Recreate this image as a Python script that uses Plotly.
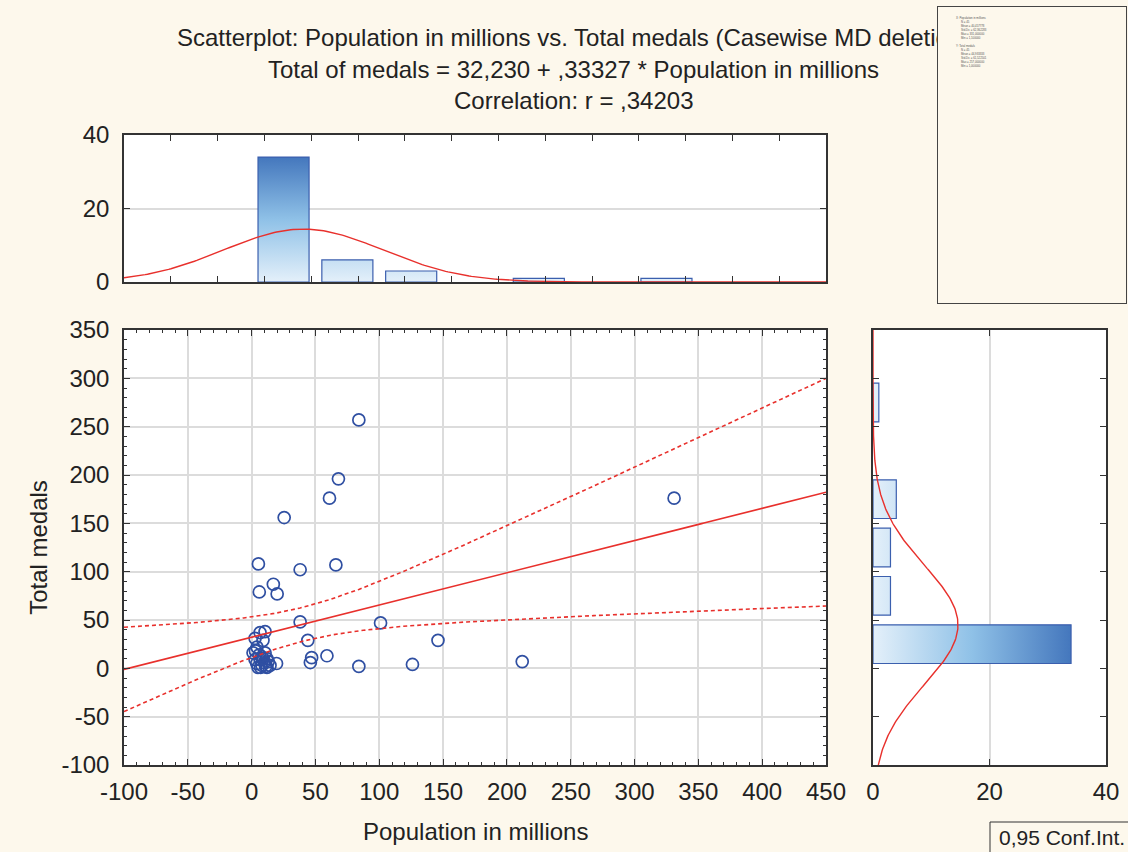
import numpy as np
import plotly.graph_objects as go

# ---------------- data ----------------
population = [84, 331, 68, 61, 25.5, 5.3, 38, 66, 17, 20, 6, 38, 101, 44, 146, 47, 46, 59, 84, 126, 212, 19.5,
              10.5, 6.6, 2.7, 8.9, 4.2, 1.1, 10.5, 2.7, 6.6, 14.4, 8.1, 5, 12,
              8, 12, 4, 10, 6, 13, 7, 9, 3, 11]
medals = [257, 176, 196, 176, 156, 108, 102, 107, 87, 77, 79, 48, 47, 29, 29, 11, 6, 13, 2, 4, 7, 5,
          38, 37, 31, 29, 22, 16, 16, 9, 9, 3, 3, 1, 1,
          12, 10, 5, 6, 14, 7, 1, 10, 18, 2]

intercept = 32.230
slope = 0.33327
t_crit = 2.0167            # t(0.975, df=43)
bin_edges_x = list(range(-100, 451, 50))
bin_edges_y = list(range(-100, 351, 50))
x_ticks = list(range(-100, 451, 50))
y_ticks = list(range(-100, 351, 50))
hist_ticks = [0, 20, 40]

title_lines = ["Scatterplot: Population in millions vs. Total medals (Casewise MD deletion)",
               "Total of medals = 32,230 + ,33327 * Population in millions",
               "Correlation: r = ,34203"]
x_title = "Population in millions"
y_title = "Total medals"
ci_label = "0,95 Conf.Int."

# ---------------- computations ----------------
x = np.array(population, float)
y = np.array(medals, float)
n = len(x)
xm, ym = x.mean(), y.mean()
sx, sy = x.std(ddof=1), y.std(ddof=1)
Sxx = ((x - xm) ** 2).sum()
resid = y - (intercept + slope * x)
s_res = np.sqrt((resid ** 2).sum() / (n - 2))

xs = np.linspace(-100, 450, 300)
yfit = intercept + slope * xs
half = t_crit * s_res * np.sqrt(1 / n + (xs - xm) ** 2 / Sxx)

W, H = 1128, 852
def px(v): return v / W
def py(v): return 1 - v / H

FONT = "Liberation Sans, Arial, sans-serif"
TXT = "#222222"
RED = "#e8302c"
BLUE = "#2f4fa2"
BAR_LINE = "#3b5fae"
GRID = "#dcdcdc"
AX = "#333333"
BG = "#fdf8ec"
FS = 24
grad = [[0, "#e4f0fa"], [0.5, "#8fc1e7"], [1, "#4477bd"]]

fig = go.Figure()

# scatter points
fig.add_trace(go.Scatter(x=population, y=medals, mode="markers", xaxis="x", yaxis="y",
                         marker=dict(symbol="circle-open", size=12, color=BLUE, line=dict(width=1.7, color=BLUE)),
                         hoverinfo="x+y"))
# regression and confidence band
fig.add_trace(go.Scatter(x=xs, y=yfit, mode="lines", line=dict(color=RED, width=1.6), xaxis="x", yaxis="y"))
fig.add_trace(go.Scatter(x=xs, y=yfit + half, mode="lines", line=dict(color=RED, width=1.6, dash="4px,3px"),
                         xaxis="x", yaxis="y"))
fig.add_trace(go.Scatter(x=xs, y=yfit - half, mode="lines", line=dict(color=RED, width=1.6, dash="4px,3px"),
                         xaxis="x", yaxis="y"))

# top histogram (population)
cx, _ = np.histogram(x, bins=bin_edges_x)
bx, by = [], []
for i, c in enumerate(cx):
    if c == 0:
        continue
    l, r = bin_edges_x[i] + 5, bin_edges_x[i + 1] - 5
    bx += [l, l, r, r, l, None]
    by += [0, c, c, 0, 0, None]
fig.add_trace(go.Scatter(x=bx, y=by, mode="lines", fill="toself", xaxis="x2", yaxis="y2",
                         line=dict(color=BAR_LINE, width=1.2),
                         fillgradient=dict(type="vertical", colorscale=grad, start=0, stop=int(cx.max()))))
bw = 50
gx = np.linspace(-100, 450, 300)
fig.add_trace(go.Scatter(x=gx, y=n * bw / (sx * np.sqrt(2 * np.pi)) * np.exp(-0.5 * ((gx - xm) / sx) ** 2),
                         mode="lines", line=dict(color=RED, width=1.4), xaxis="x2", yaxis="y2"))

# right histogram (medals)
cy, _ = np.histogram(y, bins=bin_edges_y)
hx, hy = [], []
for i, c in enumerate(cy):
    if c == 0:
        continue
    lo, hi = bin_edges_y[i] + 5, bin_edges_y[i + 1] - 5
    hx += [0, c, c, 0, 0, None]
    hy += [lo, lo, hi, hi, lo, None]
fig.add_trace(go.Scatter(x=hx, y=hy, mode="lines", fill="toself", xaxis="x3", yaxis="y3",
                         line=dict(color=BAR_LINE, width=1.2),
                         fillgradient=dict(type="horizontal", colorscale=grad, start=0, stop=int(cy.max()))))
gy = np.linspace(-100, 350, 300)
fig.add_trace(go.Scatter(y=gy, x=n * bw / (sy * np.sqrt(2 * np.pi)) * np.exp(-0.5 * ((gy - ym) / sy) ** 2),
                         mode="lines", line=dict(color=RED, width=1.4), xaxis="x3", yaxis="y3"))

tickfont = dict(family=FONT, size=FS, color=TXT)
common = dict(showline=True, linecolor=AX, linewidth=1.5, mirror="ticks", ticks="inside",
              tickcolor=AX, tickwidth=1.2, zeroline=False, tickfont=tickfont, gridcolor=GRID, gridwidth=1.5,
              automargin=False)
minor = dict(ticks="inside", dtick=10, tick0=0, ticklen=3, tickcolor=AX, showgrid=False)

fig.update_layout(
    width=W, height=H, autosize=False,
    margin=dict(l=0, r=0, t=0, b=0),
    paper_bgcolor=BG, plot_bgcolor="white", showlegend=False,
    xaxis=dict(domain=[px(124), px(826)], range=[-100, 450], anchor="y", tickmode="array",
               tickvals=x_ticks, ticktext=[str(v) for v in x_ticks], ticklen=6,
               showgrid=True, ticklabelstandoff=4, minor=minor, **common),
    yaxis=dict(domain=[py(765), py(330)], range=[-100, 350], anchor="x", tickmode="array",
               tickvals=y_ticks, ticktext=[str(v) for v in y_ticks], ticklen=6,
               showgrid=True, ticklabelstandoff=8, minor=minor,
               title=dict(text=y_title, font=dict(family=FONT, size=FS, color=TXT), standoff=7), **common),
    xaxis2=dict(domain=[px(124), px(826)], range=[-100, 450], anchor="y2", showticklabels=False,
                tickmode="array", tickvals=list(np.linspace(-100, 450, 16)), ticklen=6, showgrid=False, **common),
    yaxis2=dict(domain=[py(282), py(135)], range=[0, 40], anchor="x2", tickvals=hist_ticks, ticklen=6,
                showgrid=True, ticklabelstandoff=8, **common),
    xaxis3=dict(domain=[px(873), px(1106)], range=[0, 40], anchor="y3", tickvals=hist_ticks, ticklen=6,
                showgrid=True, ticklabelstandoff=4, **common),
    yaxis3=dict(domain=[py(765), py(330)], range=[-100, 350], anchor="x3", tickmode="array",
                tickvals=y_ticks, ticklen=6, showticklabels=False, showgrid=False, **common),
)

ann = []
for txt, yy in zip(title_lines, [38, 69, 100]):
    ann.append(dict(text=txt, x=px(573), y=py(yy), xref="paper", yref="paper", xanchor="center",
                    yanchor="middle", showarrow=False, font=dict(family=FONT, size=FS, color=TXT)))
ann.append(dict(text=x_title, x=px(475), y=py(831), xref="paper", yref="paper", xanchor="center",
                yanchor="middle", showarrow=False, font=dict(family=FONT, size=FS, color=TXT)))
# statistics box (covers the end of the first title line, as in the reference)
ann.append(dict(text=" ", x=px(937), y=py(6), xref="paper", yref="paper", xanchor="left", yanchor="top",
                width=188, height=296, bgcolor=BG, bordercolor="#444444", borderwidth=1, borderpad=0,
                showarrow=False))

def fmt(v): return f"{v:.6f}".replace(".", ",")
blocks = [("X: " + x_title, x), ("Y: " + y_title, y)]
step = 4.0
top = 17.7
for head, arr in blocks:
    lines = [f"N = {len(arr)}", f"Mean = {fmt(arr.mean())}", f"Std.Dv. = {fmt(arr.std(ddof=1))}",
             f"Max = {fmt(arr.max())}", f"Min = {fmt(arr.min())}"]
    ann.append(dict(text=head, x=px(955), y=py(top), xref="paper", yref="paper", xanchor="left",
                    yanchor="middle", showarrow=False, borderpad=0,
                    font=dict(family=FONT, size=2.8, color="#555")))
    for k, ln in enumerate(lines):
        ann.append(dict(text=ln, x=px(960), y=py(top + step * (k + 1)), xref="paper", yref="paper",
                        xanchor="left", yanchor="middle", showarrow=False, borderpad=0,
                        font=dict(family=FONT, size=2.8, color="#555")))
    top += 28
ann.append(dict(text=ci_label, x=px(997), y=py(837), xref="paper", yref="paper", xanchor="left",
                yanchor="middle", showarrow=False, font=dict(family=FONT, size=21, color=TXT)))
fig.update_layout(annotations=ann)
fig.add_shape(type="rect", xref="paper", yref="paper", x0=px(990), x1=px(1140), y0=py(822), y1=py(862),
              line=dict(color="#333333", width=1), fillcolor="rgba(0,0,0,0)")

fig.write_html("out.html", config={"displayModeBar": False},
               post_script="document.body.style.margin='0px';")
